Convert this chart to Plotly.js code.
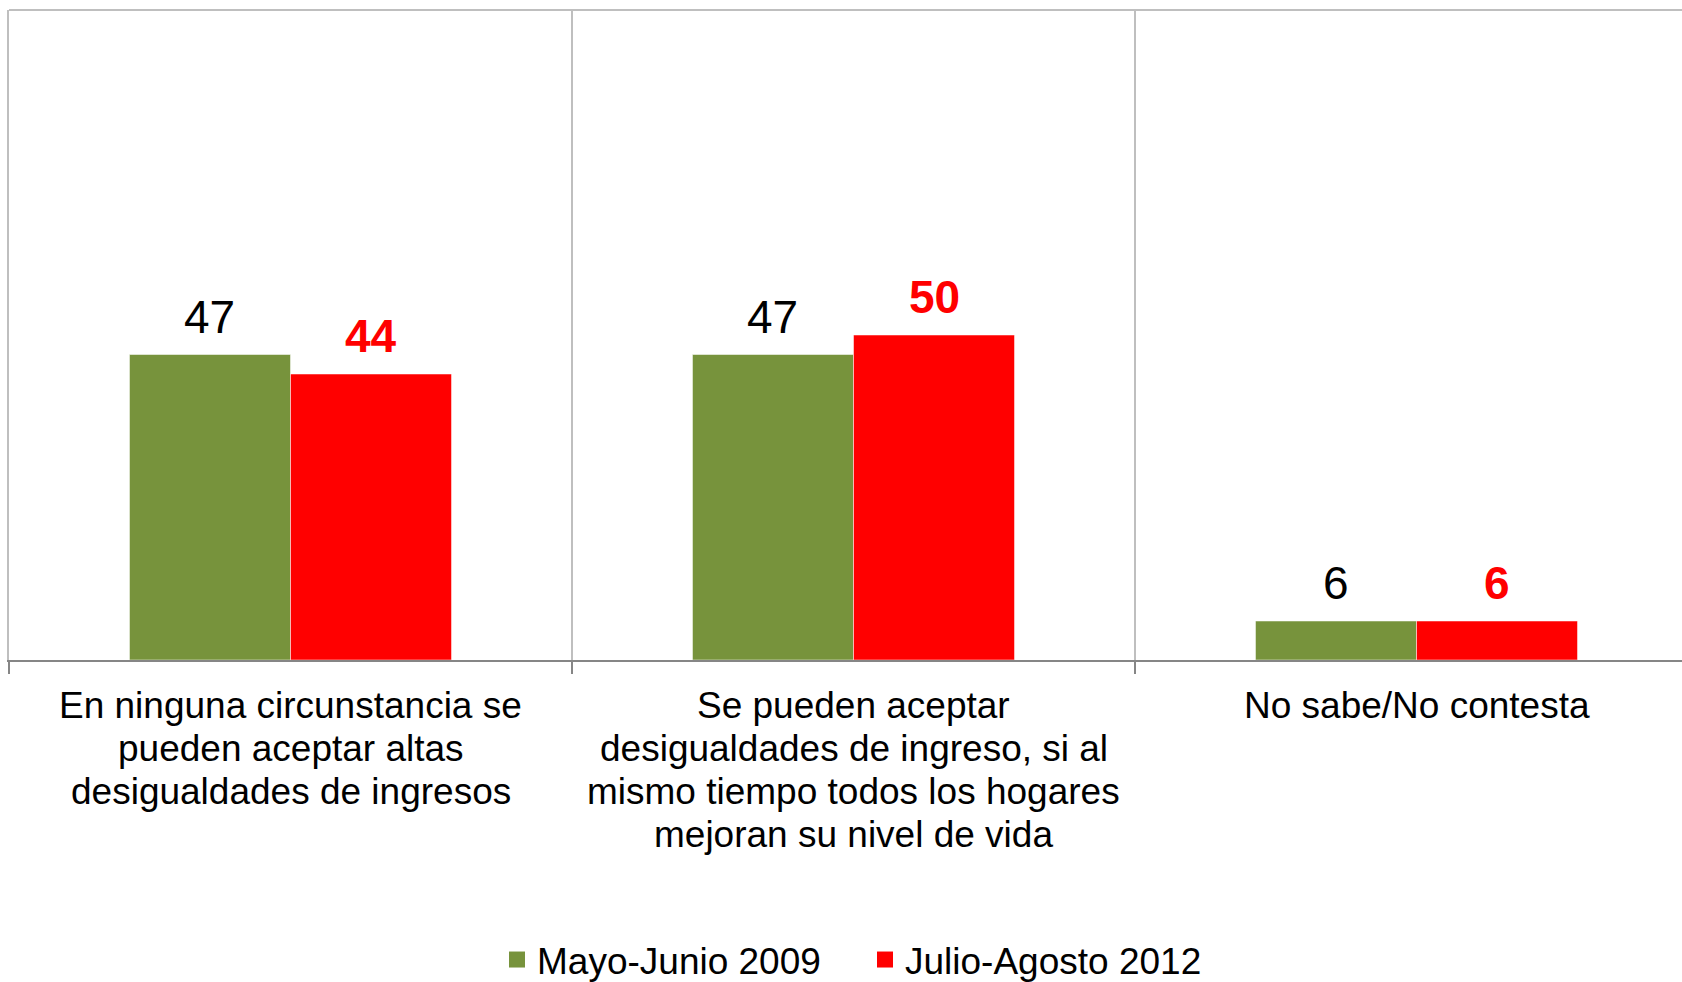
<!DOCTYPE html>
<html>
<head>
<meta charset="utf-8">
<script src="https://cdn.plot.ly/plotly-3.0.1.min.js"></script>
<style>html,body{margin:0;padding:0;background:#fff;}#chart{width:1682px;height:982px;}</style>
</head>
<body>
<div id="chart"></div>
<script>
const categories = [
  "En ninguna circunstancia se pueden aceptar altas desigualdades de ingresos",
  "Se pueden aceptar desigualdades de ingreso, si al mismo tiempo todos los hogares mejoran su nivel de vida",
  "No sabe/No contesta"
];
const categoryLines = [
  ["En ninguna circunstancia se", "pueden aceptar altas", "desigualdades de ingresos"],
  ["Se pueden aceptar", "desigualdades de ingreso, si al", "mismo tiempo todos los hogares", "mejoran su nivel de vida"],
  ["No sabe/No contesta"]
];
const seriesNames = ["Mayo-Junio 2009", "Julio-Agosto 2012"];
const values2009 = [47, 47, 6];
const values2012 = [44, 50, 6];

const GREEN = "#77933C", RED = "#FF0000";
const FONT = "Liberation Sans, Arial, sans-serif";
const bargap = 0.428;
const half = (1 - bargap) / 4;

const traces = [
  {type: "bar", name: seriesNames[0], x: categories, y: values2009, showlegend: false,
   marker: {color: GREEN, line: {color: "rgba(255,255,255,0.5)", width: 1}}, hoverinfo: "skip"},
  {type: "bar", name: seriesNames[1], x: categories, y: values2012, showlegend: false,
   marker: {color: RED, line: {color: "rgba(255,255,255,0.5)", width: 1}}, hoverinfo: "skip"},
  {type: "scatter", mode: "markers", name: seriesNames[0], x: [null], y: [null],
   marker: {symbol: "square", size: 18, color: GREEN}, hoverinfo: "skip"},
  {type: "scatter", mode: "markers", name: seriesNames[1], x: [null], y: [null],
   marker: {symbol: "square", size: 18, color: RED}, hoverinfo: "skip"}
];

const annotations = [];
values2009.forEach((v, i) => annotations.push({
  x: i - half, y: v, xref: "x", yref: "y", text: String(v), showarrow: false,
  yanchor: "middle", yshift: 38, font: {family: FONT, size: 46, color: "#000"}
}));
values2012.forEach((v, i) => annotations.push({
  x: i + half, y: v, xref: "x", yref: "y", text: "<b>" + v + "</b>", showarrow: false,
  yanchor: "middle", yshift: 38, font: {family: FONT, size: 46, color: RED}
}));
categoryLines.forEach((lines, i) => lines.forEach((t, j) => annotations.push({
  x: i, y: 0, xref: "x", yref: "y", text: t, showarrow: false,
  yanchor: "middle", yshift: -45 - 43 * j, font: {family: FONT, size: 37, color: "#000"}
})));

const layout = {
  width: 1682, height: 982,
  margin: {l: 9, r: 0, t: 10, b: 322, autoexpand: false},
  paper_bgcolor: "#fff", plot_bgcolor: "#fff",
  barmode: "group", bargap: bargap, bargroupgap: 0,
  showlegend: true,
  legend: {orientation: "h", x: 0.2917, xanchor: "left", y: -0.4615, yanchor: "middle",
           font: {family: FONT, size: 37, color: "#000"}, itemwidth: 30, entrywidth: 323,
           traceorder: "normal", itemsizing: "trace"},
  xaxis: {type: "category", range: [-0.5, -0.5 + 1673 / 563], fixedrange: true,
          showticklabels: false, tickson: "boundaries", ticks: "outside", ticklen: 12,
          tickwidth: 2, tickcolor: "#868686", showgrid: true, gridcolor: "#BFBFBF", gridwidth: 1.5,
          showline: true, linecolor: "#868686", linewidth: 2},
  yaxis: {range: [0, 100], showticklabels: false, showgrid: false,
          zeroline: false, showline: true,
          linecolor: "#BFBFBF", linewidth: 2, ticks: "", fixedrange: true},
  shapes: [{type: "line", xref: "paper", yref: "paper", x0: 0, x1: 1, y0: 1, y1: 1,
            line: {color: "#BFBFBF", width: 2}, layer: "below"}],
  annotations: annotations
};

Plotly.newPlot("chart", traces, layout, {displayModeBar: false, staticPlot: true});
</script>
</body>
</html>
